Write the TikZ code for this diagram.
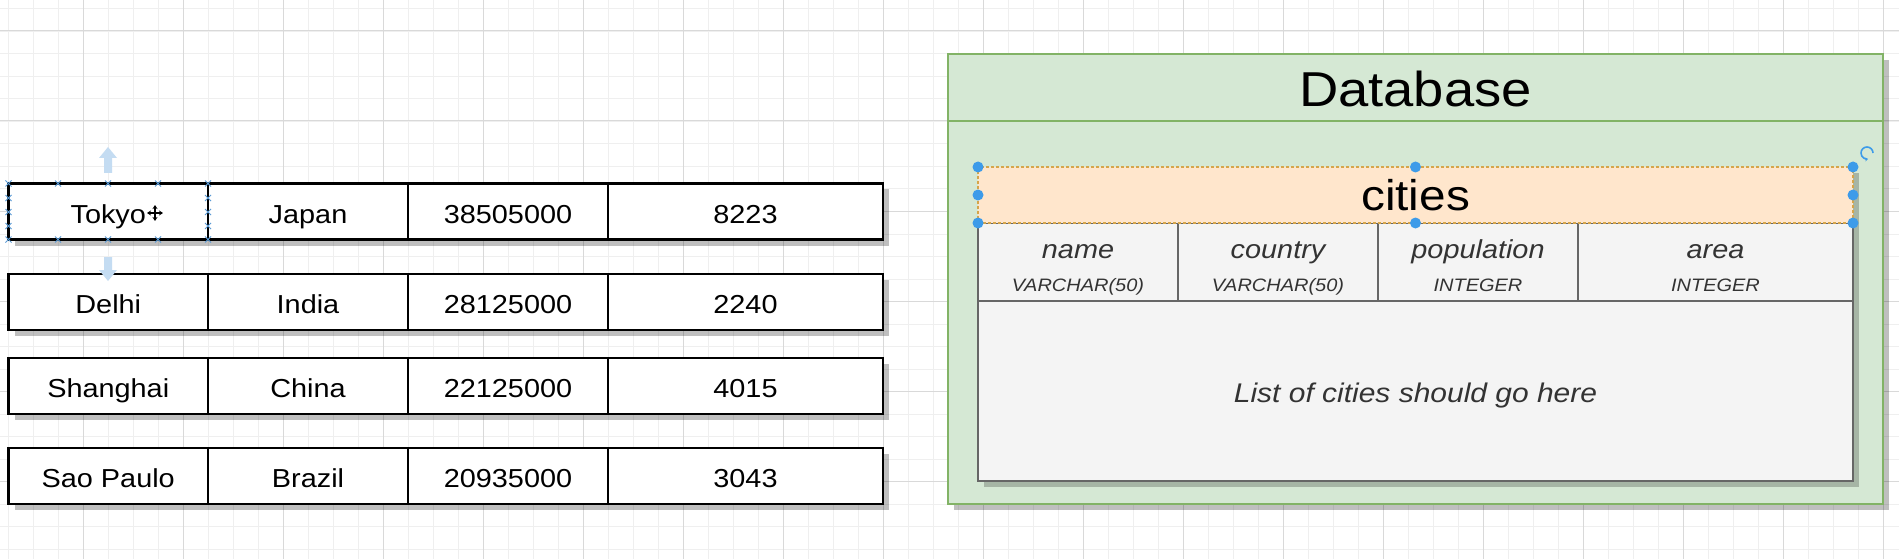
\documentclass[tikz,border=0pt]{standalone}
\usepackage{fontspec}
\usepackage{graphicx}
\setmainfont{Liberation Sans}
\usetikzlibrary{shadows,arrows.meta,calc}
\definecolor{dbfill}{HTML}{D5E8D4}
\definecolor{dbline}{HTML}{82B366}
\definecolor{peach}{HTML}{FFE6CC}
\definecolor{peachline}{HTML}{D6A54A}
\definecolor{colfill}{HTML}{F4F4F4}
\definecolor{colline}{HTML}{666666}
\definecolor{handleblue}{HTML}{3D9BE9}
\definecolor{gridminor}{HTML}{EFEFEF}
\definecolor{gridmajor}{HTML}{D9D9D9}
\definecolor{selx}{HTML}{5B9BD5}
\definecolor{arrowblue}{HTML}{C4DCF2}
\newcommand\stx[1]{\scalebox{1.11}[1]{#1}}
\begin{document}
\begin{tikzpicture}[x=1pt,y=-1pt,
  shadowed/.style={drop shadow={shadow xshift=6pt, shadow yshift=-6pt, opacity=0.25, fill=black}},
  cell/.style={draw=black, line width=2.5pt, fill=white, anchor=north west, inner sep=0pt, outer sep=0pt,
    minimum height=56pt, font=\fontsize{26}{30}\selectfont, text height=23pt, text depth=0pt, shadowed},
  dbbox/.style={draw=dbline, line width=2pt, fill=dbfill, anchor=north west, inner sep=0pt, outer sep=0pt, shadowed},
  tblbox/.style={draw=colline, line width=2pt, fill=colfill, anchor=north west, inner sep=0pt, outer sep=0pt},
  colname/.style={anchor=base, text=black!80, font=\fontsize{26}{30}\selectfont\itshape},
  coltype/.style={anchor=base, text=black!80, font=\fontsize{18}{22}\selectfont\itshape},
  handle/.style={circle, fill=handleblue, inner sep=0pt, minimum size=11pt},
  selmark/.style={selx, line width=1pt}
]
\useasboundingbox (0,0) rectangle (1899,559);
\fill[white] (0,0) rectangle (1899,559);
% grid
\foreach \i in {0,...,75} {\draw[gridminor, line width=1pt] (8+25*\i,0) -- (8+25*\i,559);}
\foreach \i in {0,...,24} {\draw[gridminor, line width=1pt] (0,9+22.5*\i) -- (1899,9+22.5*\i);}
\foreach \i in {0,...,18} {\draw[gridmajor, line width=1pt] (83+100*\i,0) -- (83+100*\i,559);}
\foreach \i in {0,...,6} {\draw[gridmajor, line width=1pt] (0,31+90*\i) -- (1899,31+90*\i);}

% left rows
\node[cell, minimum width=199.5pt] (r1a) at (8.5,183.5) {\stx{Tokyo}};
\node[cell, minimum width=200pt] (r1b) at (208,183.5) {\stx{Japan}};
\node[cell, minimum width=200pt] (r1c) at (408,183.5) {\stx{38505000}};
\node[cell, minimum width=275pt] (r1d) at (608,183.5) {\stx{8223}};

\node[cell, minimum width=199.5pt] (r2a) at (8.5,274) {\stx{Delhi}};
\node[cell, minimum width=200pt] (r2b) at (208,274) {\stx{India}};
\node[cell, minimum width=200pt] (r2c) at (408,274) {\stx{28125000}};
\node[cell, minimum width=275pt] (r2d) at (608,274) {\stx{2240}};

\node[cell, minimum width=199.5pt] (r3a) at (8.5,358) {\stx{Shanghai}};
\node[cell, minimum width=200pt] (r3b) at (208,358) {\stx{China}};
\node[cell, minimum width=200pt] (r3c) at (408,358) {\stx{22125000}};
\node[cell, minimum width=275pt] (r3d) at (608,358) {\stx{4015}};

\node[cell, minimum width=199.5pt] (r4a) at (8.5,448) {\stx{Sao Paulo}};
\node[cell, minimum width=200pt] (r4b) at (208,448) {\stx{Brazil}};
\node[cell, minimum width=200pt] (r4c) at (408,448) {\stx{20935000}};
\node[cell, minimum width=275pt] (r4d) at (608,448) {\stx{3043}};

% selection marks on Tokyo
\foreach \x in {8.5,58,108,158,208} {
  \foreach \y in {183.5,239.5} {
    \draw[selmark] (\x-3,\y-3) -- (\x+3,\y+3) (\x-3,\y+3) -- (\x+3,\y-3);
  }
}
\foreach \x in {8.5,208} {
  \foreach \y in {198,212,226} {
    \draw[selmark] (\x-3,\y-3) -- (\x+3,\y+3) (\x-3,\y+3) -- (\x+3,\y-3);
  }
}
\fill[arrowblue] (108,147) -- (117,158) -- (112,158) -- (112,173) -- (104,173) -- (104,158) -- (99,158) -- cycle;
\fill[arrowblue] (108,281) -- (117,270) -- (112,270) -- (112,257) -- (104,257) -- (104,270) -- (99,270) -- cycle;
\coordinate (mv) at (155,213);
\draw[line width=1.3pt, {Stealth[length=4pt,width=5pt]}-{Stealth[length=4pt,width=5pt]}] ($(mv)+(-8,0)$) -- ($(mv)+(8,0)$);
\draw[line width=1.3pt, {Stealth[length=4pt,width=5pt]}-{Stealth[length=4pt,width=5pt]}] ($(mv)+(0,-8)$) -- ($(mv)+(0,8)$);

% database container
\node[dbbox, minimum width=935pt, minimum height=450pt] (db) at (948,54) {};
\draw[dbline, line width=2pt] ($(db.north west)+(0,67)$) -- ($(db.north east)+(0,67)$);
\node[font=\fontsize{49}{55}\selectfont, text height=35pt, text depth=0pt, inner sep=0pt] (dbtitle) at ($(db.north)+(0,35)$) {\stx{Database}};

% table shadow
\fill[black, opacity=0.22] (984,173) rectangle (1859,487);
\node[tblbox, minimum width=875pt, minimum height=180pt] (body) at (978,301) {};
\node[anchor=center, text=black!80, font=\fontsize{27}{31}\selectfont\itshape, text height=19.3pt, text depth=0pt, inner sep=0pt] (bodytext) at ($(body.center)+(0,2)$) {\stx{List of cities should go here}};

\node[tblbox, minimum width=200pt, minimum height=78pt] (c1) at (978,223) {};
\node[tblbox, minimum width=200pt, minimum height=78pt] (c2) at (1178,223) {};
\node[tblbox, minimum width=200pt, minimum height=78pt] (c3) at (1378,223) {};
\node[tblbox, minimum width=275pt, minimum height=78pt] (c4) at (1578,223) {};
\node[colname] (n1) at ($(c1.north)+(0,35)$) {\stx{name}};
\node[colname] (n2) at ($(c2.north)+(0,35)$) {\stx{country}};
\node[colname] (n3) at ($(c3.north)+(0,35)$) {\stx{population}};
\node[colname] (n4) at ($(c4.north)+(0,35)$) {\stx{area}};
\node[coltype] (t1) at ($(c1.north)+(0,68)$) {\stx{VARCHAR(50)}};
\node[coltype] (t2) at ($(c2.north)+(0,68)$) {\stx{VARCHAR(50)}};
\node[coltype] (t3) at ($(c3.north)+(0,68)$) {\stx{INTEGER}};
\node[coltype] (t4) at ($(c4.north)+(0,68)$) {\stx{INTEGER}};

\node[anchor=north west, fill=peach, draw=peachline, line width=1.5pt, dash pattern=on 3pt off 2pt,
  inner sep=0pt, outer sep=0pt, minimum width=875pt, minimum height=56pt,
  font=\fontsize{43}{48}\selectfont, text height=31pt, text depth=0pt] (cities) at (978,167) {\stx{cities}};

% handles
\foreach \a in {north west,north,north east,west,east,south west,south,south east} {
  \node[handle] at (cities.\a) {};
}
\coordinate (rot) at ($(cities.north east)+(14,-14)$);
\draw[handleblue, line width=1.6pt, -{Stealth[length=3pt,width=4pt]}] ($(rot)+(6,0)$) arc[start angle=0, end angle=280, radius=6pt];
\end{tikzpicture}
\end{document}
